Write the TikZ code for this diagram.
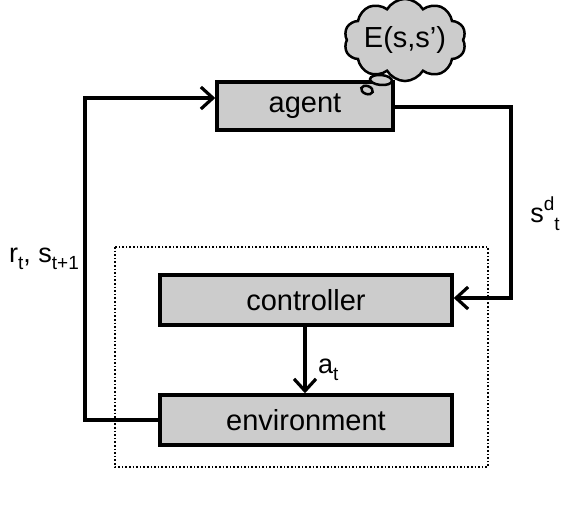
\documentclass[tikz,border=0pt]{standalone}
\usepackage{fontspec}
\setmainfont{Liberation Sans}
\usetikzlibrary{arrows.meta,shapes.symbols,shapes.geometric}
\newcommand{\mysub}[1]{\raisebox{-0.25em}{\fontsize{19}{21}\selectfont #1}}
\begin{document}
\begin{tikzpicture}[x=1pt,y=-1pt,
  blk/.style={draw,line width=3.5pt,fill=black!20,inner sep=0pt,font=\fontsize{29}{32}\selectfont},
  conn/.style={line width=3.8pt},
  arr/.style={conn,-{Straight Barb[length=12pt,width=22pt,line width=3.2pt]}},
  lbl/.style={font=\fontsize{27}{30}\selectfont,inner sep=0pt}]
\useasboundingbox (0,0) rectangle (587,509);
\draw[line width=1.6pt,dotted] (115,247) rectangle (488,467);
\node[blk,minimum width=176pt,minimum height=48pt] (agent) at (305,106) {agent};
\node[blk,minimum width=292pt,minimum height=50pt] (ctrl) at (306,300) {controller};
\node[blk,minimum width=292pt,minimum height=50pt] (env) at (306,420) {environment};
\node[cloud,cloud puffs=10,cloud puff arc=120,aspect=1.8,draw,line width=2.5pt,fill=black!20,minimum width=100pt,minimum height=60pt,inner sep=0pt,font=\fontsize{29}{32}\selectfont] (cloud) at (405,40) {E(s,s’)};
\node[ellipse,draw,line width=2.5pt,fill=black!20,minimum width=22pt,minimum height=10pt,inner sep=0pt,rotate=-5] (b1) at (381,80) {};
\node[ellipse,draw,line width=2.5pt,fill=black!20,minimum width=12pt,minimum height=8pt,inner sep=0pt,rotate=-20] (b2) at (367,90) {};
\coordinate (l1) at (85,420);
\coordinate (l2) at (85,98);
\coordinate (r1) at (511,107);
\coordinate (r2) at (511,298);
\draw[arr] (env.west) -- (l1) -- (l2) -- (agent.west |- l2);
\draw[arr] (agent.east |- r1) -- (r1) -- (r2) -- (ctrl.east |- r2);
\draw[arr] (ctrl.south -| 305,0) -- (env.north -| 305,0);
\node[lbl] (rs) at (44,259) {r\mysub{t}, s\mysub{t+1}};
\node[lbl] (sd) at (545,214) {s\raisebox{0.45em}{\fontsize{19}{21}\selectfont d}\raisebox{-0.3em}{\fontsize{19}{21}\selectfont t}};
\node[lbl,anchor=west] (at) at (318,370) {a\mysub{t}};
\end{tikzpicture}
\end{document}
